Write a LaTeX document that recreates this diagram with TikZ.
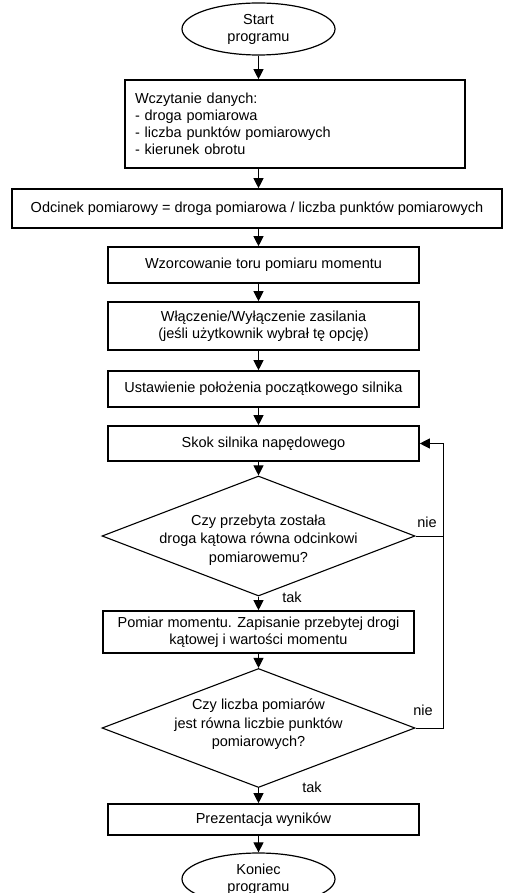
\documentclass[tikz,border=0pt]{standalone}
\usepackage{fontspec}
\setmainfont{Liberation Sans}
\usetikzlibrary{shapes.geometric,arrows.meta}

\begin{document}
\begin{tikzpicture}[x=1pt,y=1pt,
  every node/.style={font=\fontsize{14.5}{17}\selectfont},
  krok/.style={draw,line width=1.6pt,minimum width=311pt,align=center,inner sep=0pt},
  pytanie/.style={draw,diamond,line width=1.1pt,minimum width=313pt,minimum height=120pt,inner sep=0pt},
  tekst/.style={align=center,inner sep=0pt,font=\fontsize{14.5}{18.5}\selectfont},
  terminal/.style={draw,ellipse,line width=1.2pt,minimum width=153pt,minimum height=52pt,align=center,inner sep=0pt},
  conn/.style={line width=0.9pt,-{Triangle[length=10pt,width=10pt]}}]
 \clip (0,0) rectangle (507,-893);
 \node[terminal] (start) at (258.5,-29) {Start\\programu};
 \node[krok,minimum width=340pt,minimum height=88pt,text width=320pt,align=left] (dane) at (295,-124)
   {Wczytanie danych:\\- droga pomiarowa\\- liczba punktów pomiarowych\\- kierunek obrotu};
 \node[krok,minimum width=490pt,minimum height=39pt] (odcinek) at (257,-208.5)
   {Odcinek pomiarowy = droga pomiarowa / liczba punktów pomiarowych};
 \node[krok,minimum height=36pt] (wzorzec) at (263.5,-265) {Wzorcowanie toru pomiaru momentu};
 \node[krok,minimum height=48pt] (zasilanie) at (263.5,-326) {Włączenie/Wyłączenie zasilania\\(jeśli użytkownik wybrał tę opcję)};
 \node[krok,minimum height=36pt] (polozenie) at (263.5,-389) {Ustawienie położenia początkowego silnika};
 \node[krok,minimum height=35pt] (skok) at (263.5,-443.5) {Skok silnika napędowego};
 \node[pytanie] (droga) at (258.5,-536) {};
 \node[tekst] (droga-t) at (258.5,-540) {Czy przebyta została\\droga kątowa równa odcinkowi\\pomiarowemu?};
 \node[krok,minimum height=42pt] (pomiar) at (258.5,-632) {Pomiar momentu. Zapisanie przebytej drogi\\kątowej i wartości momentu};
 \node[pytanie,minimum height=119pt] (liczba) at (258.5,-728) {};
 \node[tekst] (liczba-t) at (258.5,-724.5) {Czy liczba pomiarów\\jest równa liczbie punktów\\pomiarowych?};
 \node[krok,minimum height=31pt] (wyniki) at (263.5,-819.5) {Prezentacja wyników};
 \node[terminal] (koniec) at (258.5,-879) {Koniec\\programu};
 \coordinate (petla) at (443,0);
 \node (nie1) at (427,-522) {nie};
 \node (nie2) at (423,-710) {nie};
 \node (tak1) at (292,-597) {tak};
 \node (tak2) at (312,-787) {tak};
 \draw[conn] (start.south) -- (start.south |- dane.north);
 \draw[conn] (start.south |- dane.south) -- (start.south |- odcinek.north);
 \draw[conn] (start.south |- odcinek.south) -- (start.south |- wzorzec.north);
 \draw[conn] (start.south |- wzorzec.south) -- (start.south |- zasilanie.north);
 \draw[conn] (start.south |- zasilanie.south) -- (start.south |- polozenie.north);
 \draw[conn] (start.south |- polozenie.south) -- (start.south |- skok.north);
 \draw[conn] (start.south |- skok.south) -- (droga.north);
 \draw[conn] (droga.south) -- (pomiar.north);
 \draw[conn] (pomiar.south) -- (liczba.north);
 \draw[conn] (liczba.south) -- (liczba.south |- wyniki.north);
 \draw[conn] (liczba.south |- wyniki.south) -- (koniec.north);
 \draw[line width=0.9pt] (droga.east) -- (droga.east -| petla);
 \draw[conn] (liczba.east) -- (liczba.east -| petla) |- (skok.east);
\end{tikzpicture}
\end{document}
